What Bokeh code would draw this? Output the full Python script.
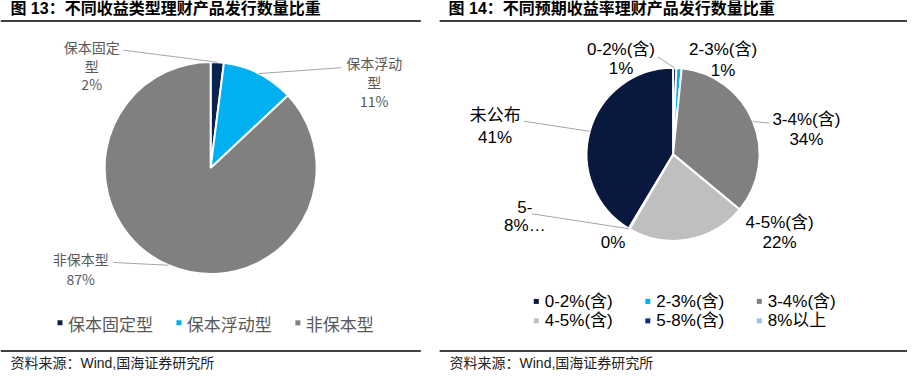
import numpy as np
from bokeh.plotting import figure
from bokeh.models import Range1d
from bokeh.core.properties import value
from bokeh.embed import file_html
from bokeh.resources import INLINE

# ---------------- data ----------------
title1 = "图 13：不同收益类型理财产品发行数量比重"
title2 = "图 14：不同预期收益率理财产品发行数量比重"
source_text = "资料来源：Wind,国海证券研究所"

cat1 = ["保本固定型", "保本浮动型", "非保本型"]
val1 = [2.0, 11.0, 87.0]
col1 = ["#0b2150", "#00b0f0", "#808080"]

cat2 = ["0-2%(含)", "2-3%(含)", "3-4%(含)", "4-5%(含)", "5-8%(含)", "8%以上", "未公布"]
val2 = [0.6, 1.0, 34.4, 22.4, 0.2, 0.0, 41.4]
col2 = ["#08193d", "#00b0f0", "#808080", "#bfbfbf", "#0d2d84", "#9fbfef", "#08193d"]
legend2 = cat2[:6]

# ---------------- layout ----------------
CJK = "Noto Sans CJK SC"
MIX = "Liberation Sans, Noto Sans CJK SC"

p = figure(width=907, height=372, output_backend="svg", toolbar_location=None,
           x_range=Range1d(4, 919), y_range=Range1d(-386, -4),
           min_border=0, border_fill_color="white", background_fill_color="white")
p.xaxis.visible = False
p.yaxis.visible = False
p.grid.visible = False
p.outline_line_color = None


def Y(v):
    return -np.asarray(v, dtype=float)


def txt(x, y, s, size, color="#000000", font=CJK, align="center", style="normal"):
    p.text(x=[x], y=[Y(y)], text=[s], text_font=value(font), text_font_size=value(size),
           text_color=color, text_align=align, text_baseline="middle", text_font_style=style)


# titles and rules
txt(14, 12, title1, "16px", "#000000", MIX, "left", "bold")
txt(456, 12, title2, "16px", "#000000", MIX, "left", "bold")
p.segment(x0=[4, 447, 4, 447], y0=Y([25, 25, 364, 364]), x1=[428, 919, 428, 919],
          y1=Y([25, 25, 364, 364]), line_color="#000000", line_width=1.5)
txt(14, 376, source_text, "14px", "#222222", MIX, "left")
txt(457, 376, source_text, "14px", "#222222", MIX, "left")


def pie(cx, cy, r, vals, cols):
    v = np.asarray(vals, dtype=float)
    frac = v / v.sum()
    cum = np.cumsum(frac)
    prev = cum - frac
    start = np.pi / 2 - 2 * np.pi * prev
    end = np.pi / 2 - 2 * np.pi * cum
    keep = v > 0
    p.wedge(x=[cx] * keep.sum(), y=[Y(cy)] * keep.sum(), radius=r, radius_units="screen",
            start_angle=start[keep], end_angle=end[keep], direction="clock",
            fill_color=[c for c, k in zip(cols, keep) if k], line_color="white", line_width=2)
    mid = 2 * np.pi * (prev + frac / 2)
    ex = cx + r * np.sin(mid) / 0.991
    ey = cy - r * np.cos(mid) / 0.974
    return ex, ey


# ---------- pie 1 ----------
ex1, ey1 = pie(216, 176, 106, val1, col1)
lab1_pos = [(96, 52, 19), (381, 68, 19.5), (85, 269, 20.5)]
lead1_end = [(128, 55), (348, 73), (118, 273)]
for i, name in enumerate(cat1):
    lines = [name[:4]] + ([name[4:]] if len(name) > 4 else []) + [f"{val1[i]:.0f}%"]
    x, y0, dy = lab1_pos[i]
    for j, s in enumerate(lines):
        txt(x, y0 + j * dy, s, "14px", "#595959", CJK)
    p.segment(x0=[lead1_end[i][0]], y0=[Y(lead1_end[i][1])], x1=[ex1[i]], y1=[Y(ey1[i])],
              line_color="#a6a6a6", line_width=1)

# legend 1
lx = 64
for i, name in enumerate(cat1):
    p.rect(x=[lx], y=[Y(335)], width=5, height=5, width_units="screen", height_units="screen",
           fill_color=col1[i], line_color=None)
    txt(lx + 8, 336, name, "17px", "#595959", CJK, "left")
    lx += 8 + len(name) * 17 + 27

# ---------- pie 2 ----------
ex2, ey2 = pie(682.5, 162, 86.5, val2, col2)
pct2 = [f"{v:.0f}%" for v in val2]
lab2 = {
    0: [(630, 54, cat2[0]), (630, 74, pct2[0])],
    1: [(733, 54, cat2[1]), (733, 76, pct2[1])],
    2: [(817, 126, cat2[2]), (817, 147, pct2[2])],
    3: [(790, 232, cat2[3]), (790, 252, pct2[3])],
    4: [(533, 216, cat2[4][:2]), (533, 235, cat2[4][2:4] + "…"), (622, 253, pct2[4])],
    6: [(503, 122, cat2[6]), (503, 145, pct2[6])],
}
for i, items in lab2.items():
    for (x, y, s) in items:
        txt(x, y, s, "17px", "#000000", MIX)
lead2_end = {0: (667, 62), 2: (780, 130), 4: (540, 223), 6: (532, 128)}
for i, (lx0, ly0) in lead2_end.items():
    p.segment(x0=[lx0], y0=[Y(ly0)], x1=[ex2[i]], y1=[Y(ey2[i])],
              line_color="#a6a6a6", line_width=1)

# legend 2
for i, name in enumerate(legend2):
    r_, c_ = divmod(i, 3)
    mx = 544.5 + c_ * 112.5
    my = 313 + r_ * 20
    p.rect(x=[mx], y=[Y(my)], width=5, height=5, width_units="screen", height_units="screen",
           fill_color=col2[i], line_color=None)
    txt(mx + 8.5, my, name, "17px", "#000000", MIX, "left")

open("out.html", "w").write(file_html(p, INLINE))
